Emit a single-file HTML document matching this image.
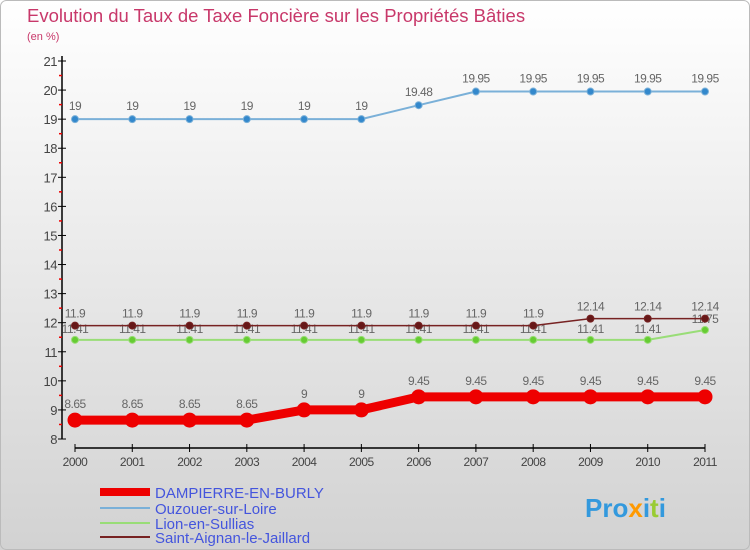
<!DOCTYPE html>
<html><head><meta charset="utf-8"><style>
body{margin:0;}
#wrap{width:750px;height:550px;position:relative;overflow:hidden;background:linear-gradient(#ffffff,#d2d2d2);font-family:"Liberation Sans",sans-serif;}
text{font-family:"Liberation Sans",sans-serif;}
</style></head><body>
<div id="wrap">
<svg id="chart" width="750" height="550">
<rect x="0.5" y="0.5" width="749" height="549" rx="6" fill="none" stroke="#bbb"/>
<text x="27" y="22" font-size="18.5" fill="#c8386a">Evolution du Taux de Taxe Foncière sur les Propriétés Bâties</text>
<text x="27" y="40" font-size="11" fill="#c8386a">(en %)</text>
<g id="axes"></g><g id="series"></g>
<g>
<line x1="100" y1="492" x2="150" y2="492" stroke="#ee0000" stroke-width="8"/>
<text x="155" y="498" font-size="15" fill="#4455dd">DAMPIERRE-EN-BURLY</text>
<line x1="100" y1="508" x2="150" y2="508" stroke="#7ab0d8" stroke-width="2"/>
<text x="155" y="514" font-size="15" fill="#4455dd">Ouzouer-sur-Loire</text>
<line x1="100" y1="523" x2="150" y2="523" stroke="#99dd77" stroke-width="2"/>
<text x="155" y="529" font-size="15" fill="#4455dd">Lion-en-Sullias</text>
<line x1="100" y1="537" x2="150" y2="537" stroke="#772222" stroke-width="2"/>
<text x="155" y="543" font-size="15" fill="#4455dd">Saint-Aignan-le-Jaillard</text>
</g>
<text x="585" y="517" font-size="26" font-weight="bold" fill="#3399dd">Pro<tspan fill="#ff9900">x</tspan>i<tspan fill="#99cc33">t</tspan>i</text>
</svg>
</div>
<script>
const years=[2000,2001,2002,2003,2004,2005,2006,2007,2008,2009,2010,2011];
const dampierre=[8.65,8.65,8.65,8.65,9,9,9.45,9.45,9.45,9.45,9.45,9.45];
const ouzouer=[19,19,19,19,19,19,19.48,19.95,19.95,19.95,19.95,19.95];
const lion=[11.41,11.41,11.41,11.41,11.41,11.41,11.41,11.41,11.41,11.41,11.41,11.75];
const saintAignan=[11.9,11.9,11.9,11.9,11.9,11.9,11.9,11.9,11.9,12.14,12.14,12.14];
const yTicks=[8,9,10,11,12,13,14,15,16,17,18,19,20,21];
const NS="http://www.w3.org/2000/svg";
const yMin=8,yMax=21,yTop=61,yBot=439,x0=75,x1=705;
const X=i=>x0+(x1-x0)*i/(years.length-1);
const Y=v=>yBot-(v-yMin)/(yMax-yMin)*(yBot-yTop);
function mk(tag,attrs,parent){const e=document.createElementNS(NS,tag);for(const k in attrs)e.setAttribute(k,attrs[k]);parent.appendChild(e);return e;}
const ax=document.getElementById('axes');
let el=mk('line',{x1:62,y1:yTop-5,x2:62,y2:yBot,stroke:'#000','stroke-width':1.5},ax);


yTicks.forEach((t,i)=>{
 let l=mk('line',{x1:58,y1:Y(t),x2:66,y2:Y(t),stroke:'#000'},ax);
 
 
 let tx=mk('text',{x:57,y:Y(t)+5,'text-anchor':'end','font-size':13,fill:'#444','letter-spacing':'-0.5'},ax);
 tx.textContent=t;
 
 
 if(i<yTicks.length-1){
  let m=mk('line',{x1:59,y1:Y(t+0.5),x2:62,y2:Y(t+0.5),stroke:'#e00','stroke-width':1.5},ax);
  
  
 }
});
el=mk('line',{x1:X(0),y1:448,x2:X(years.length-1),y2:448,stroke:'#000','stroke-width':1.5},ax);


years.forEach((yr,i)=>{
 let l=mk('line',{x1:X(i),y1:444,x2:X(i),y2:452,stroke:'#000'},ax);
 
 
 let tx=mk('text',{x:X(i),y:466,'text-anchor':'middle','font-size':12,fill:'#444','letter-spacing':'-0.5'},ax);
 tx.textContent=yr;
 
 
});
const sg=document.getElementById('series');
function series(data,name,color,w,r,dot,lblOff){
 const g=mk('g',{},sg);
 
 
 let p=mk('polyline',{points:data.map((v,i)=>X(i)+','+Y(v)).join(' '),fill:'none',stroke:color,'stroke-width':w,'stroke-linejoin':'round'},g);
 
 
 data.forEach((v,i)=>{
  let c=mk('circle',{cx:X(i),cy:Y(v),r:r,fill:dot,stroke:color,'stroke-width':1},g);
  
  
  let t=mk('text',{x:X(i),y:Y(v)-lblOff,'text-anchor':'middle','font-size':12,fill:'#666','letter-spacing':'-0.5'},g);
  t.textContent=v;
  
  
 });
}
series(ouzouer,'ouzouer','#7ab0d8',2,3.5,'#3388cc',9);
series(lion,'lion','#99dd77',2,3.5,'#66cc33',7);
series(saintAignan,'saint-aignan','#772222',1.5,3.5,'#661818',8);
series(dampierre,'dampierre','#ee0000',9,7,'#ee0000',12);
</script>
</body></html>
